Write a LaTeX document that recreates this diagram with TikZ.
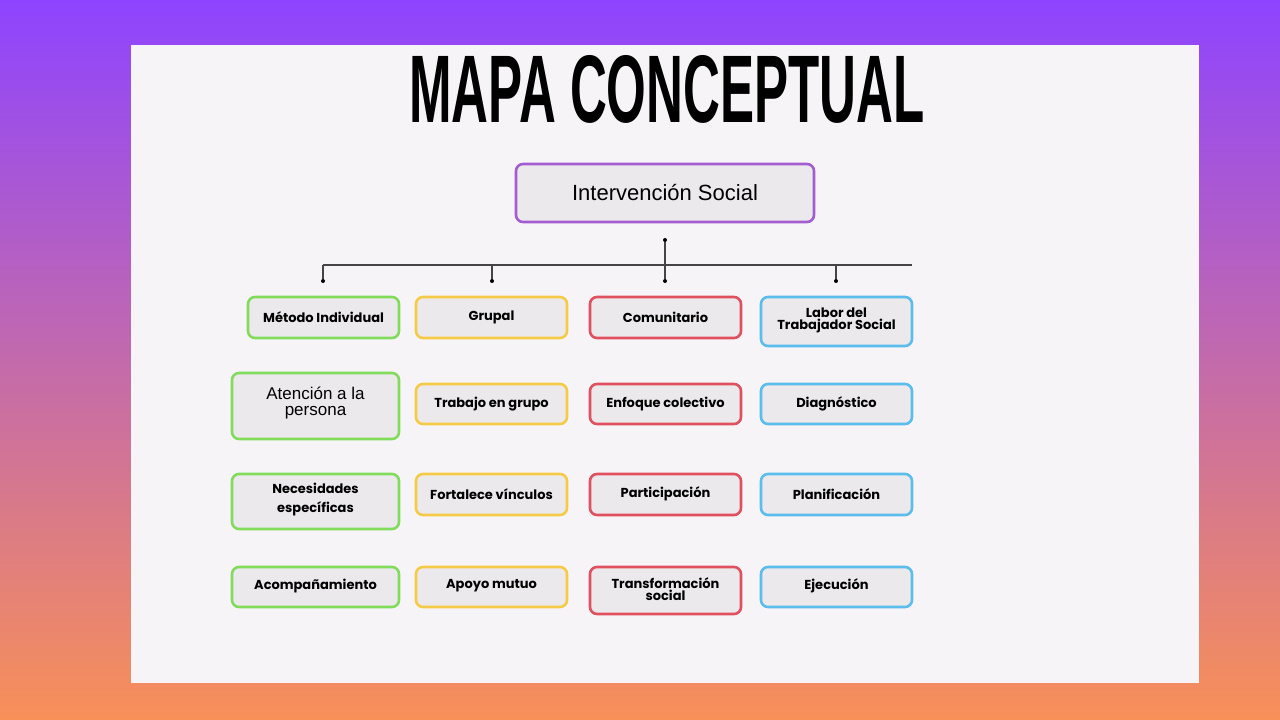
\documentclass[tikz,border=0pt]{standalone}
\usepackage{fontspec}
\setmainfont{Liberation Sans}
\newfontfamily\pop{Poppins}
\begin{document}
\begin{tikzpicture}[x=1pt,y=-1pt,
 bx/.style={draw=#1,line width=2.6pt,rounded corners=7pt,fill=boxfill},
 lb/.style={font=\pop\bfseries\fontsize{13}{12}\selectfont,align=center,text=black},
 ln/.style={draw=linec,line width=1.1pt},
 dt/.style={circle,fill=black,inner sep=0pt,minimum size=4pt}]
\definecolor{boxfill}{HTML}{EBE9EC}
\definecolor{linec}{HTML}{444444}
\definecolor{cg}{HTML}{82DC5C}
\definecolor{cy}{HTML}{F5CB45}
\definecolor{cr}{HTML}{E0505E}
\definecolor{cb}{HTML}{5BBDEB}
\definecolor{cp}{HTML}{A35CD2}
\useasboundingbox (0,0) rectangle (1280,720);
\shade[top color={rgb,255:red,142;green,68;blue,255},middle color={rgb,255:red,214;green,110;blue,200},bottom color={rgb,255:red,248;green,144;blue,88}] (0,0) rectangle (1280,720);
\fill[fill={rgb,255:red,246;green,244;blue,247}] (131,45) rectangle (1199,683);
\node (title) at (667,89) {\resizebox{515pt}{67pt}{\bfseries MAPA CONCEPTUAL}};
% top box
\draw[bx=cp] (516,164) rectangle (814,222);
\node[font=\fontsize{22}{24}\selectfont] (root) at (665,193) {Intervención Social};
% connectors
\node[dt] (d0) at (665,240) {};
\coordinate (j) at (665,265);
\coordinate (hl) at (323,265);
\coordinate (hr) at (912,265);
\coordinate (h2) at (492,265);
\coordinate (h4) at (836,265);
\node[dt] (e1) at (323,281) {};
\node[dt] (e2) at (492,281) {};
\node[dt] (e3) at (665,281) {};
\node[dt] (e4) at (836,281) {};
\draw[ln] (d0) -- (e3);
\draw[ln] (hl) -- (hr);
\draw[ln] (hl) -- (e1);
\draw[ln] (h2) -- (e2);
\draw[ln] (h4) -- (e4);
% row 1
\draw[bx=cg] (248,297) rectangle (399,338); \node[lb] (a1) at (323.5,317) {Método Individual};
\draw[bx=cy] (416,297) rectangle (567,338); \node[lb] (b1) at (491.5,317) {Grupal};
\draw[bx=cr] (590,297) rectangle (741,338); \node[lb] (c1) at (665.5,317) {Comunitario};
\draw[bx=cb] (761,297) rectangle (912,346); \node[lb] (f1) at (836.5,320) {Labor del\\Trabajador Social};
% row 2
\draw[bx=cg] (232,373) rectangle (399,439); \node[align=center,font=\fontsize{17}{17}\selectfont] (a2) at (315.5,403) {Atención a la\\persona};
\draw[bx=cy] (416,384) rectangle (567,424); \node[lb] (b2) at (491.5,404) {Trabajo en grupo};
\draw[bx=cr] (590,384) rectangle (741,424); \node[lb] (c2) at (665.5,404) {Enfoque colectivo};
\draw[bx=cb] (761,384) rectangle (912,424); \node[lb] (f2) at (836.5,404) {Diagnóstico};
% row 3
\draw[bx=cg] (232,474) rectangle (399,529); \node[lb,font=\pop\bfseries\fontsize{13}{19}\selectfont] (a3) at (315.5,500) {Necesidades\\específicas};
\draw[bx=cy] (416,474) rectangle (567,515); \node[lb] (b3) at (491.5,494) {Fortalece vínculos};
\draw[bx=cr] (590,474) rectangle (741,515); \node[lb] (c3) at (665.5,494) {Participación};
\draw[bx=cb] (761,474) rectangle (912,515); \node[lb] (f3) at (836.5,494) {Planificación};
% row 4
\draw[bx=cg] (232,567) rectangle (399,607); \node[lb] (a4) at (315.5,586) {Acompañamiento};
\draw[bx=cy] (416,567) rectangle (567,607); \node[lb] (b4) at (491.5,586) {Apoyo mutuo};
\draw[bx=cr] (590,567) rectangle (741,614); \node[lb] (c4) at (665.5,589) {Transformación\\social};
\draw[bx=cb] (761,567) rectangle (912,607); \node[lb] (f4) at (836.5,586) {Ejecución};
\end{tikzpicture}
\end{document}
